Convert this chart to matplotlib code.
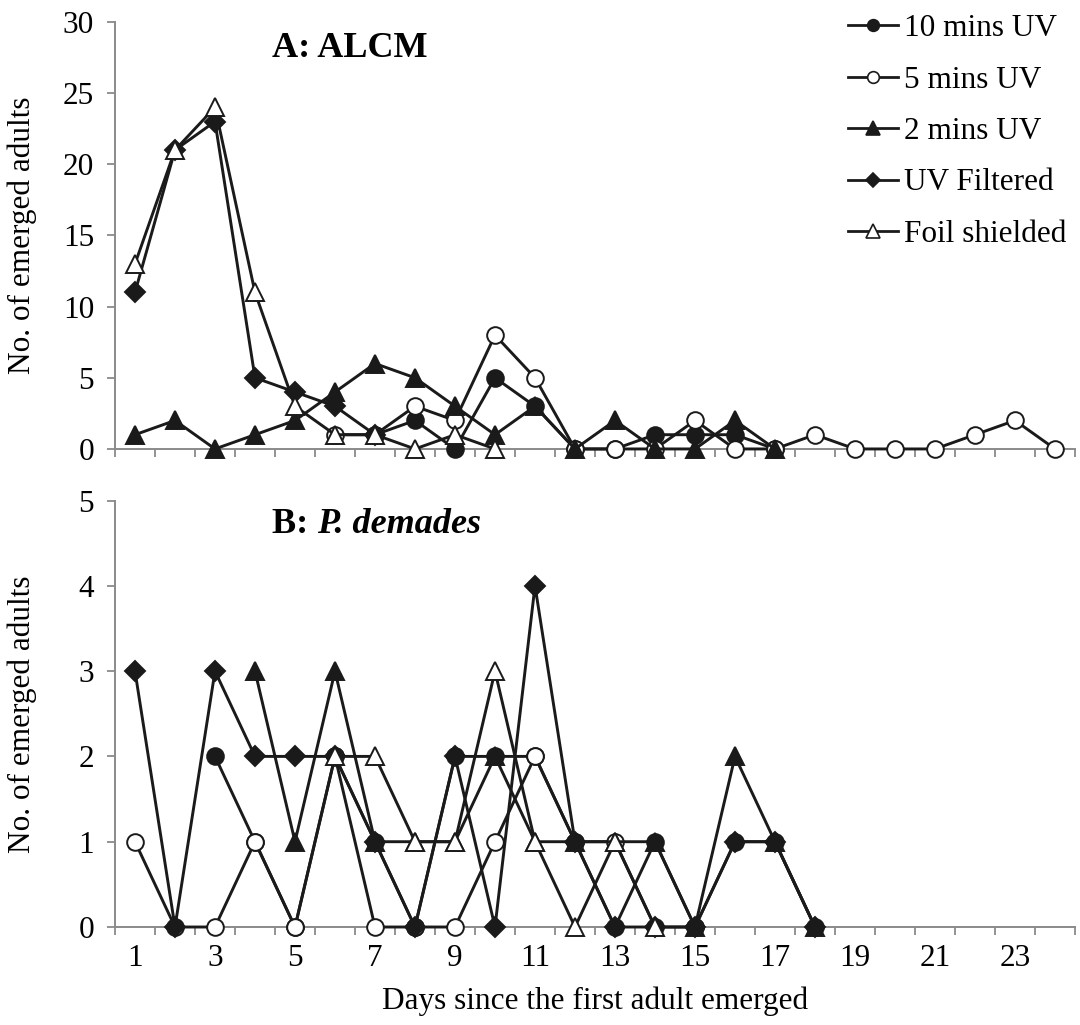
import numpy as np
import matplotlib
matplotlib.use("Agg")
import matplotlib.pyplot as plt
from matplotlib.lines import Line2D

nan = np.nan
days = np.arange(1, 25)
x_tick_labels = ["1", "3", "5", "7", "9", "11", "13", "15", "17", "19", "21", "23"]
series_names = ["10 mins UV", "5 mins UV", "2 mins UV", "UV Filtered", "Foil shielded"]

# Panel A: ALCM
a_10min = [nan] * 6 + [1, 2, 0, 5, 3, 0, 0, 1, 1, 1, 0] + [nan] * 7
a_5min = [nan] * 5 + [1, 1, 3, 2, 8, 5, 0, 0, 0, 2, 0, 0, 1, 0, 0, 0, 1, 2, 0]
a_2min = [1, 2, 0, 1, 2, 4, 6, 5, 3, 1, 3, 0, 2, 0, 0, 2, 0] + [nan] * 7
a_filtered = [11, 21, 23, 5, 4, 3, 1] + [nan] * 17
a_foil = [13, 21, 24, 11, 3, 1, 1, 0, 1, 0] + [nan] * 14

# Panel B: P. demades
b_10min = [nan, nan, 2, 1, 0, 2, 1, 0, 2, 2, 2, 1, 0, 1, 0, 1, 1, 0] + [nan] * 6
b_5min = [1, 0, 0, 1, 0, 2, 0, 0, 0, 1, 2, 1, 1, 0, 0] + [nan] * 9
b_2min = [nan] * 3 + [3, 1, 3, 1, 1, 1, 2, 1, 1, 1, 1, 0, 2, 1, 0] + [nan] * 6
b_filtered = [3, 0, 3, 2, 2, 2, 1, 0, 2, 0, 4, 1, 0, 0, 0, 1, 1, 0] + [nan] * 6
b_foil = [nan] * 5 + [2, 2, 1, 1, 3, 1, 0, 1, 0] + [nan] * 10

INK = "#1a1a1a"
GRAY = "#8a8a8a"
FONT = "Liberation Serif"
FS = 22.5
plt.rcParams["font.family"] = [FONT, "DejaVu Serif"]

styles = [
    dict(marker="o", mfc=INK, ms=12, z=3),
    dict(marker="o", mfc="white", ms=12, z=4),
    dict(marker="^", mfc=INK, ms=13.5, z=6),
    dict(marker="D", mfc=INK, ms=10.5, z=5),
    dict(marker="^", mfc="white", ms=13.5, z=7),
]

fig = plt.figure(figsize=(10.8, 10.25), dpi=100)
axA = fig.add_axes([0.10648, 0.5620, 0.8889, 0.4166])
axB = fig.add_axes([0.10648, 0.0956, 0.8889, 0.4161])


def draw(ax, data, ymax, ystep):
    for vals, st in zip(data, styles):
        ax.plot(days, vals, color=INK, lw=2.1, marker=st["marker"], ms=st["ms"],
                mfc=st["mfc"], mec=INK, mew=1.4, zorder=st["z"], clip_on=False)
    ax.set_xlim(0.5, 24.5)
    ax.set_ylim(0, ymax)
    for s in ("top", "right"):
        ax.spines[s].set_visible(False)
    for s in ("left", "bottom"):
        ax.spines[s].set_color(GRAY)
        ax.spines[s].set_linewidth(1.4)
    ax.set_yticks(np.arange(0, ymax + 0.1, ystep))
    ax.set_xticks(np.arange(0.5, 24.6, 1), minor=True)
    ax.tick_params(axis="y", which="major", length=6, width=1.3, color=GRAY,
                   labelsize=FS, pad=9)
    ax.tick_params(axis="x", which="minor", length=6, width=1.3, color=GRAY)
    ax.tick_params(axis="x", which="major", length=0, labelsize=FS, pad=12)
    for lab in ax.get_yticklabels():
        lab.set_fontfamily(FONT)
    ax.set_ylabel("No. of emerged adults", fontsize=FS, family=FONT)
    ax.yaxis.label.set_va("center")
    ax.yaxis.set_label_coords(-0.097, 0.5)


draw(axA, [a_10min, a_5min, a_2min, a_filtered, a_foil], 30, 5)
draw(axB, [b_10min, b_5min, b_2min, b_filtered, b_foil], 5, 1)

axA.set_xticks([])
axB.set_xticks(np.arange(1, 24, 2))
axB.set_xticklabels(x_tick_labels, fontsize=FS, family=FONT)
axB.set_xlabel("Days since the first adult emerged", fontsize=FS, family=FONT, labelpad=10)

axA.text(0.1635, 0.938, "A: ALCM", transform=axA.transAxes, fontsize=26,
         fontweight="bold", family=FONT, ha="left", va="center")
tB = axB.text(0.1635, 0.905, "B: ", transform=axB.transAxes, fontsize=26,
              fontweight="bold", family=FONT, ha="left", va="bottom")
axB.annotate("P. demades", xy=(1, 0), xycoords=tB, fontsize=26, fontweight="bold",
             fontstyle="italic", family=FONT, ha="left", va="bottom")

handles = [Line2D([], [], color=INK, lw=2.0, marker=st["marker"], ms=st["ms"] * 0.7,
                  mfc=st["mfc"], mec=INK, mew=1.2) for st in styles]
fig.legend(handles, series_names, loc="upper left",
           bbox_to_anchor=(848 / 1080, 1 - 14 / 1025), frameon=False,
           prop=dict(family=FONT, size=FS), handlelength=1.6, handletextpad=0.2,
           labelspacing=0.72, borderpad=0, borderaxespad=0)

fig.savefig("out.png", dpi=100)
